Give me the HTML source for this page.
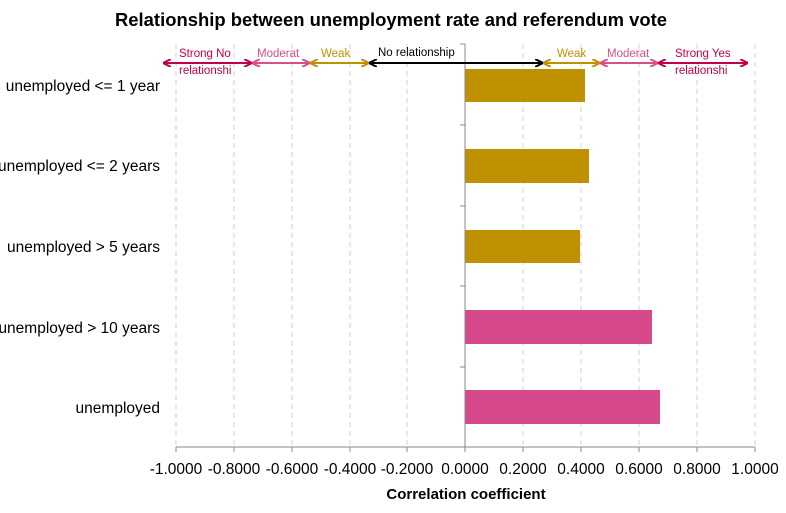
<!DOCTYPE html>
<html><head><meta charset="utf-8"><style>body{margin:0;background:#fff}svg{display:block}text{font-family:"Liberation Sans",sans-serif}</style></head><body>
<svg width="786" height="513" viewBox="0 0 786 513">
<defs>
<marker id="mr" markerWidth="8" markerHeight="8" refX="7" refY="4" orient="auto-start-reverse" markerUnits="userSpaceOnUse"><path d="M0,0 L8,4 L0,8" fill="none" stroke="context-stroke" stroke-width="2"/></marker>
</defs>
<text x="391" y="26" font-size="18.5" font-weight="bold" text-anchor="middle" textLength="552" lengthAdjust="spacingAndGlyphs">Relationship between unemployment rate and  referendum vote</text>
<g stroke="#d0d0d0" stroke-dasharray="5,4" stroke-width="1">
<line x1="176" y1="44" x2="176" y2="447"/><line x1="234" y1="44" x2="234" y2="447"/><line x1="292" y1="44" x2="292" y2="447"/><line x1="350" y1="44" x2="350" y2="447"/><line x1="407" y1="44" x2="407" y2="447"/><line x1="523" y1="44" x2="523" y2="447"/><line x1="581" y1="44" x2="581" y2="447"/><line x1="639" y1="44" x2="639" y2="447"/><line x1="697" y1="44" x2="697" y2="447"/><line x1="755" y1="44" x2="755" y2="447"/>
</g>
<g fill="#BF9000"><rect x="465" y="69" width="120" height="33"/><rect x="465" y="149" width="124" height="34"/><rect x="465" y="230" width="115" height="33"/></g>
<g fill="#D64A8C"><rect x="465" y="310" width="187" height="34"/><rect x="465" y="390" width="195" height="34"/></g>
<g stroke="#888" stroke-width="1">
<line x1="465" y1="44" x2="465" y2="447"/><line x1="176" y1="447" x2="755" y2="447"/>
<line x1="460" y1="44" x2="465" y2="44"/><line x1="460" y1="125" x2="465" y2="125"/><line x1="460" y1="206" x2="465" y2="206"/><line x1="460" y1="286" x2="465" y2="286"/><line x1="460" y1="367" x2="465" y2="367"/>
<line x1="176" y1="447" x2="176" y2="452"/><line x1="234" y1="447" x2="234" y2="452"/><line x1="292" y1="447" x2="292" y2="452"/><line x1="350" y1="447" x2="350" y2="452"/><line x1="407" y1="447" x2="407" y2="452"/><line x1="465" y1="447" x2="465" y2="452"/><line x1="523" y1="447" x2="523" y2="452"/><line x1="581" y1="447" x2="581" y2="452"/><line x1="639" y1="447" x2="639" y2="452"/><line x1="697" y1="447" x2="697" y2="452"/><line x1="755" y1="447" x2="755" y2="452"/>
</g>
<g font-size="15.5" text-anchor="end" fill="#000">
<text x="160" y="91">unemployed &lt;= 1 year</text><text x="160" y="171">unemployed &lt;= 2 years</text><text x="160" y="252">unemployed &gt; 5 years</text><text x="160" y="333">unemployed &gt; 10 years</text><text x="160" y="413">unemployed</text>
</g>
<g font-size="15.5" text-anchor="middle">
<text x="176" y="474">-1.0000</text><text x="234" y="474">-0.8000</text><text x="292" y="474">-0.6000</text><text x="350" y="474">-0.4000</text><text x="407" y="474">-0.2000</text><text x="465" y="474">0.0000</text><text x="523" y="474">0.2000</text><text x="581" y="474">0.4000</text><text x="639" y="474">0.6000</text><text x="697" y="474">0.8000</text><text x="755" y="474">1.0000</text>
</g>
<text x="466" y="499" font-size="15" font-weight="bold" text-anchor="middle">Correlation coefficient</text>
<g stroke-width="2" fill="none">
<line x1="164" y1="63" x2="251" y2="63" stroke="#C0004A" marker-start="url(#mr)" marker-end="url(#mr)"/>
<line x1="253" y1="63" x2="309" y2="63" stroke="#D64F8C" marker-start="url(#mr)" marker-end="url(#mr)"/>
<line x1="311" y1="63" x2="368" y2="63" stroke="#BF9000" marker-start="url(#mr)" marker-end="url(#mr)"/>
<line x1="370" y1="63" x2="542" y2="63" stroke="#000" marker-start="url(#mr)" marker-end="url(#mr)"/>
<line x1="544" y1="63" x2="599" y2="63" stroke="#BF9000" marker-start="url(#mr)" marker-end="url(#mr)"/>
<line x1="601" y1="63" x2="657" y2="63" stroke="#D64F8C" marker-start="url(#mr)" marker-end="url(#mr)"/>
<line x1="659" y1="63" x2="747" y2="63" stroke="#C0004A" marker-start="url(#mr)" marker-end="url(#mr)"/>
</g>
<g font-size="11.5">
<text x="179" y="57" fill="#C0004A">Strong No</text><text x="179" y="74" fill="#C0004A">relationshi</text>
<text x="257" y="57" fill="#D64F8C">Moderat</text>
<text x="321" y="57" fill="#BF9000">Weak</text>
<text x="378" y="56" fill="#000">No relationship</text>
<text x="557" y="57" fill="#BF9000">Weak</text>
<text x="607" y="57" fill="#D64F8C">Moderat</text>
<text x="675" y="57" fill="#C0004A">Strong Yes</text><text x="675" y="74" fill="#C0004A">relationshi</text>
</g>
</svg>
</body></html>
